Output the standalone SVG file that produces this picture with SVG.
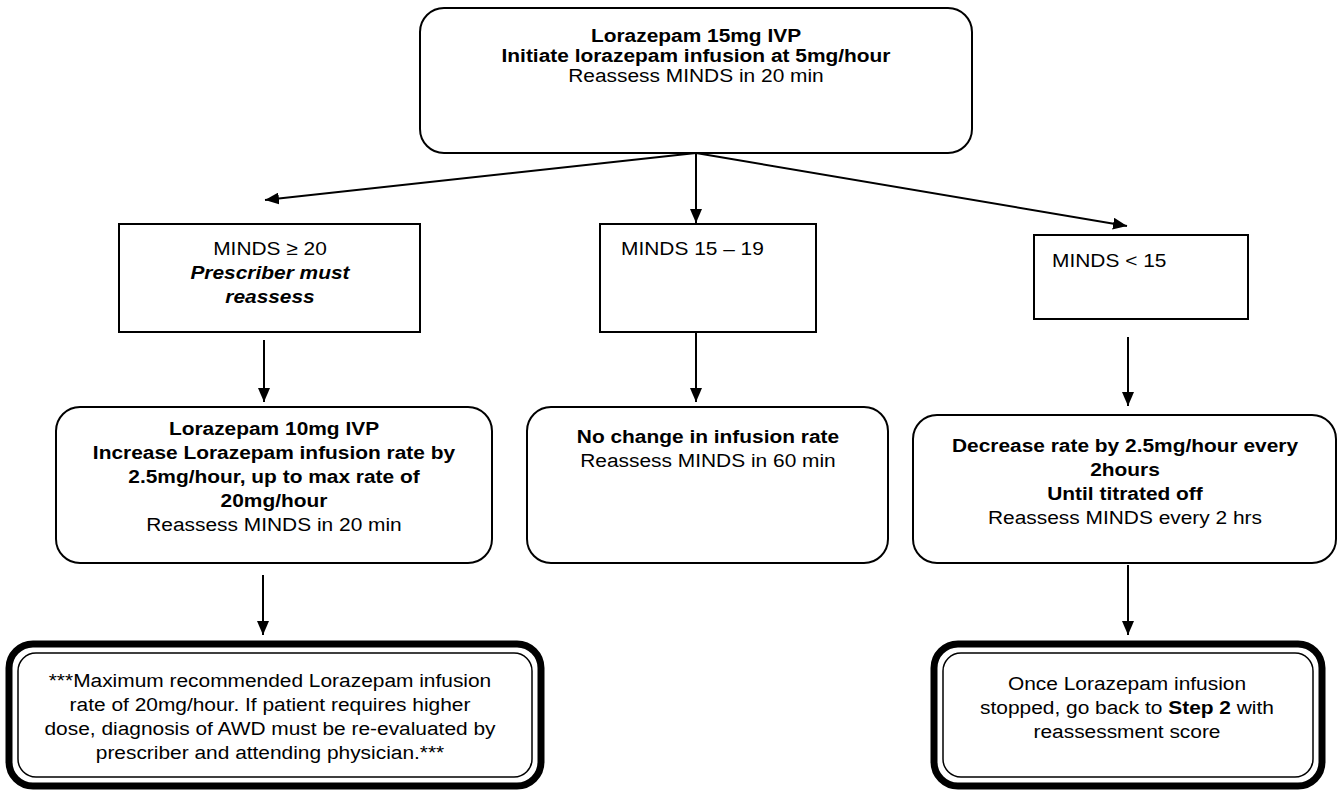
<svg xmlns="http://www.w3.org/2000/svg" width="1343" height="791" viewBox="0 0 1343 791">
<style>
.box{fill:#fff;stroke:#000;stroke-width:2}
.thick{fill:#fff;stroke:#000;stroke-width:7}
.thin{fill:none;stroke:#000;stroke-width:1.5}
.ln{stroke:#000;stroke-width:2;fill:none;marker-end:url(#ah)}
text{font-family:"Liberation Sans",Arial,sans-serif;font-size:19px;fill:#000}
.c{text-anchor:middle}
.b{font-weight:bold}
.bi{font-weight:bold;font-style:italic}
</style>
<defs>
<marker id="ah" markerUnits="userSpaceOnUse" viewBox="0 0 14 12" markerWidth="14" markerHeight="12" refX="14" refY="6" orient="auto">
<path d="M0,0 L14,6 L0,12 z" fill="#000"/>
</marker>
</defs>
<g id="connectors">
<line class="ln" x1="696" y1="153" x2="265" y2="200"/>
<line class="ln" x1="696" y1="153" x2="696" y2="223"/>
<line class="ln" x1="696" y1="153" x2="1127" y2="226"/>
<line class="ln" x1="264" y1="340" x2="264" y2="402"/>
<line class="ln" x1="696" y1="332" x2="696" y2="402"/>
<line class="ln" x1="1128" y1="337" x2="1128" y2="406"/>
<line class="ln" x1="263" y1="575" x2="263" y2="635"/>
<line class="ln" x1="1128" y1="565" x2="1128" y2="635"/>
</g>
<g id="n1">
<rect class="box" x="420" y="8" width="552" height="145" rx="24"/>
<g transform="matrix(1.1,0,0,1,-69.6,0)">
<text class="c b" x="696" y="42">Lorazepam 15mg IVP</text>
<text class="c b" x="696" y="62">Initiate lorazepam infusion at 5mg/hour</text>
<text class="c" x="696" y="82">Reassess MINDS in 20 min</text>
</g>
</g>
<g id="n2">
<rect class="box" x="119" y="224" width="301" height="108"/>
<g transform="matrix(1.1,0,0,1,-27,0)">
<text class="c" x="270" y="255">MINDS ≥ 20</text>
<text class="c bi" x="270" y="279">Prescriber must</text>
<text class="c bi" x="270" y="303">reassess</text>
</g>
</g>
<g id="n3">
<rect class="box" x="600" y="224" width="216" height="108"/>
<g transform="matrix(1.1,0,0,1,-62.1,0)">
<text x="621" y="255">MINDS 15 – 19</text>
</g>
</g>
<g id="n4">
<rect class="box" x="1034" y="235" width="214" height="84"/>
<g transform="matrix(1.1,0,0,1,-105.2,0)">
<text x="1052" y="267">MINDS &lt; 15</text>
</g>
</g>
<g id="n5">
<rect class="box" x="56" y="407" width="436" height="156" rx="24"/>
<g transform="matrix(1.1,0,0,1,-27.4,0)">
<text class="c b" x="274" y="435">Lorazepam 10mg IVP</text>
<text class="c b" x="274" y="459">Increase Lorazepam infusion rate by</text>
<text class="c b" x="274" y="483">2.5mg/hour, up to max rate of</text>
<text class="c b" x="274" y="507">20mg/hour</text>
<text class="c" x="274" y="531">Reassess MINDS in 20 min</text>
</g>
</g>
<g id="n6">
<rect class="box" x="527" y="407" width="361" height="156" rx="24"/>
<g transform="matrix(1.1,0,0,1,-70.8,0)">
<text class="c b" x="708" y="443">No change in infusion rate</text>
<text class="c" x="708" y="467">Reassess MINDS in 60 min</text>
</g>
</g>
<g id="n7">
<rect class="box" x="913" y="415" width="423" height="148" rx="24"/>
<g transform="matrix(1.1,0,0,1,-112.5,0)">
<text class="c b" x="1125" y="452">Decrease rate by 2.5mg/hour every</text>
<text class="c b" x="1125" y="476">2hours</text>
<text class="c b" x="1125" y="500">Until titrated off</text>
<text class="c" x="1125" y="524">Reassess MINDS every 2 hrs</text>
</g>
</g>
<g id="n8">
<rect class="thick" x="9" y="644" width="532" height="142" rx="24"/>
<rect class="thin" x="18" y="653" width="514" height="124" rx="18"/>
<g transform="matrix(1.1,0,0,1,-27,0)">
<text class="c" x="270" y="687">***Maximum recommended Lorazepam infusion</text>
<text class="c" x="270" y="711">rate of 20mg/hour. If patient requires higher</text>
<text class="c" x="270" y="735">dose, diagnosis of AWD must be re-evaluated by</text>
<text class="c" x="270" y="759">prescriber and attending physician.***</text>
</g>
</g>
<g id="n9">
<rect class="thick" x="934" y="644" width="388" height="142" rx="24"/>
<rect class="thin" x="943" y="653" width="370" height="124" rx="18"/>
<g transform="matrix(1.1,0,0,1,-112.7,0)">
<text class="c" x="1127" y="690">Once Lorazepam infusion</text>
<text class="c" x="1127" y="714">stopped, go back to <tspan class="b">Step 2</tspan> with</text>
<text class="c" x="1127" y="738">reassessment score</text>
</g>
</g>
</svg>
